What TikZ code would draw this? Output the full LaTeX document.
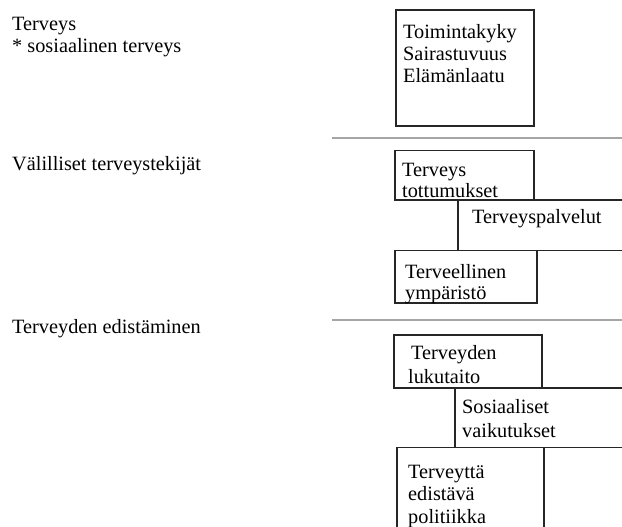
\documentclass[tikz,border=0pt]{standalone}
\usepackage{fontspec}
\setmainfont{Liberation Serif}
\begin{document}
\begin{tikzpicture}[x=1pt,y=-1pt,
  lbl/.style={anchor=base west,inner sep=0pt,font=\fontsize{20.3}{22}\selectfont},
  frame/.style={draw=black!85,line width=1.3pt},
  divider/.style={draw=black!35,line width=1.8pt}]
\useasboundingbox (0,0) rectangle (622,527);
\fill[white] (0,0) rectangle (622,527);

% section headings on the left
\node[lbl] (h1a) at (12,31) {Terveys};
\node[lbl] (h1b) at (12,53) {* sosiaalinen terveys};
\node[lbl] (h2) at (12,170) {Välilliset terveystekijät};
\node[lbl] (h3) at (12,333) {Terveyden edistäminen};

% horizontal dividers between the sections
\coordinate (d1a) at (332,138); \coordinate (d1b) at (622,138);
\coordinate (d2a) at (332,320); \coordinate (d2b) at (622,320);
\draw[divider] (d1a) -- (d1b);
\draw[divider] (d2a) -- (d2b);

% section 1: outcome box
\draw[frame] (396,10) rectangle (534,126);
\node[lbl] (b1a) at (403,39) {Toimintakyky};
\node[lbl] (b1b) at (403,61) {Sairastuvuus};
\node[lbl] (b1c) at (403,83) {Elämänlaatu};

% section 2: stacked boxes
\draw[frame] (458,250.5) -- (458,200) -- (622,200);
\draw[frame] (458,250.5) -- (622,250.5);
\draw[frame] (395,150.5) rectangle (534,200);
\draw[frame] (395,250.5) rectangle (537,303);
\node[lbl] (b2a) at (402,176) {Terveys};
\node[lbl] (b2b) at (402,197) {tottumukset};
\node[lbl] (b3) at (472,223) {Terveyspalvelut};
\node[lbl] (b4a) at (405,278) {Terveellinen};
\node[lbl] (b4b) at (405,299) {ympäristö};

% section 3: stacked boxes
\draw[frame] (455,447.5) -- (455,388) -- (622,388);
\draw[frame] (397,447.5) -- (622,447.5);
\draw[frame] (394,335) rectangle (542,388);
\draw[frame] (397,530) -- (397,447.5) -- (544,447.5) -- (544,530);
\node[lbl] (b5a) at (411,359) {Terveyden};
\node[lbl] (b5b) at (408,383) {lukutaito};
\node[lbl] (b6a) at (462,413) {Sosiaaliset};
\node[lbl] (b6b) at (462,437) {vaikutukset};
\node[lbl] (b7a) at (408,478) {Terveyttä};
\node[lbl] (b7b) at (408,500) {edistävä};
\node[lbl] (b7c) at (408,523) {politiikka};
\end{tikzpicture}
\end{document}
